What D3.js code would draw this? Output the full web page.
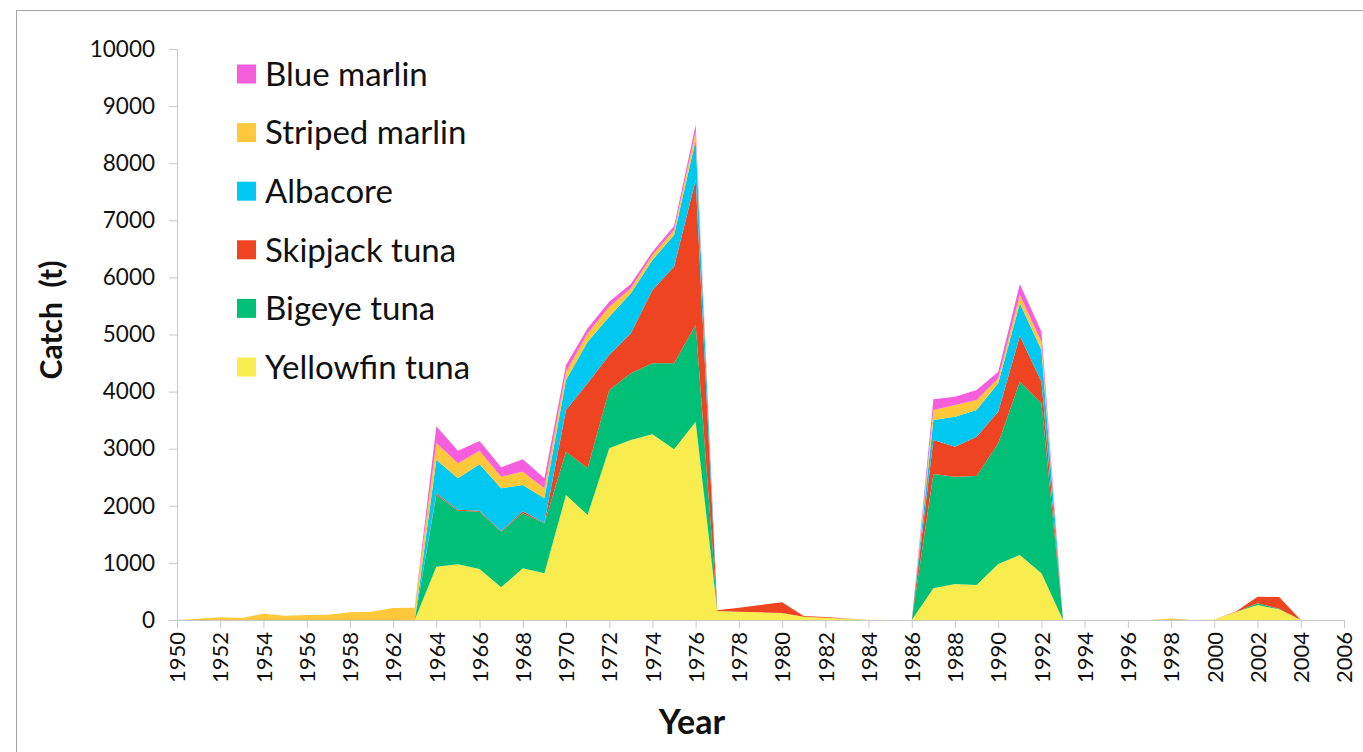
<!DOCTYPE html>
<html>
<head>
<meta charset="utf-8">
<script src="https://cdn.jsdelivr.net/npm/d3@7"></script>
<style>
  html, body { margin: 0; padding: 0; background: #fff; }
  svg { display: block; }
  text { font-family: Lato, "Open Sans", sans-serif; fill: #111; }
</style>
</head>
<body>
<svg id="chart" width="1363" height="752"></svg>
<script>
// ---- Data ----
const years = ["1950","1951","1952","1953","1954","1955","1956","1957","1958","1959",
  "1962","1963","1964","1965","1966","1967","1968","1969","1970","1971","1972","1973",
  "1974","1975","1976","1977","1978","1979","1980","1981","1982","1983","1984","1985",
  "1986","1987","1988","1989","1990","1991","1992","1993","1994","1995","1996","1997",
  "1998","1999","2000","2001","2002","2003","2004","2005","2006"];

//                 1950 .......................................... 1959, 1962, 1963
const yellowfin = [0,0,0,0,0,0,0,0,0,0, 0,0,
  // 1964-1976
  933,975,893,572,905,817,2189,1839,3007,3152,3252,2989,3473,
  // 1977-1986
  158,146,134,123,58,40,20,5,0,0,
  // 1987-1993
  555,630,613,981,1138,817,0,
  // 1994-2006
  0,0,0,0,0,0,10,140,263,187,0,0,0];

const bigeye = [0,0,0,0,0,0,0,0,0,0, 0,0,
  1256,940,1004,975,963,876,759,818,1021,1168,1243,1506,1693,
  0,0,0,0,0,0,0,0,0,0,
  2002,1880,1909,2113,3036,2978,0,
  0,0,0,0,0,0,0,0,29,12,0,0,0];

const skipjack = [0,0,0,0,0,0,0,0,0,0, 0,0,
  25,15,15,10,35,10,730,1488,613,700,1284,1692,2540,
  12,70,129,187,12,12,5,0,0,0,
  595,525,688,554,800,379,0,
  0,0,0,0,5,0,0,10,117,204,0,0,0];

const albacore = [0,0,0,0,0,0,0,0,0,0, 0,0,
  593,551,815,749,461,428,525,729,671,701,526,555,700,
  0,0,0,0,0,0,0,0,0,0,
  351,526,468,497,572,555,0,
  0,0,0,0,0,0,0,0,0,0,0,0,0];

const stripedMarlin = [0,23,47,35,111,76,88,93,134,146, 210,216,
  292,263,238,204,233,175,146,146,175,88,87,88,146,
  0,0,0,0,0,0,0,0,0,0,
  175,204,175,88,146,145,0,
  0,0,0,0,20,0,0,0,0,0,0,0,0];

const blueMarlin = [0,0,0,0,0,0,0,0,0,0, 0,0,
  292,221,170,164,217,175,117,88,88,75,58,70,117,
  0,0,0,0,0,0,0,0,0,0,
  187,146,175,116,192,176,0,
  0,0,0,0,0,0,0,0,0,0,0,0,0];

const seriesNames = ["Yellowfin tuna","Bigeye tuna","Skipjack tuna","Albacore","Striped marlin","Blue marlin"];
const seriesValues = [yellowfin, bigeye, skipjack, albacore, stripedMarlin, blueMarlin];
const seriesColors = ["#f9ec4f","#00c078","#ee4422","#00c8f0","#ffc83a","#f75ede"];
const yTicks = [0,1000,2000,3000,4000,5000,6000,7000,8000,9000,10000];
const xTickLabels = years.filter((d,i) => i % 2 === 0);

// ---- Build table ----
const table = years.map((y,i) => {
  const row = {year: y};
  seriesNames.forEach((n,k) => row[n] = seriesValues[k][i]);
  return row;
});

const svg = d3.select("#chart");

// outer frame
svg.append("rect").attr("x",16.5).attr("y",10.5).attr("width",1400).attr("height",800)
  .attr("fill","none").attr("stroke","#a6a6a6").attr("stroke-width",1);

const x = d3.scalePoint().domain(years).range([177, 1344]);
const y = d3.scaleLinear().domain([0,10000]).range([620, 49]);

const stack = d3.stack().keys(seriesNames);
const layers = stack(table);

const area = d3.area()
  .x(d => x(d.data.year))
  .y0(d => y(d[0]))
  .y1(d => y(d[1]));

svg.append("g").selectAll("path").data(layers).join("path")
  .attr("d", area)
  .attr("fill", (d,i) => seriesColors[i]);

// Y axis
const yAxis = svg.append("g").attr("transform","translate(177,0)")
  .call(d3.axisLeft(y).tickValues(yTicks).tickSize(8).tickPadding(14).tickFormat(d3.format("d")));
yAxis.select(".domain").attr("stroke","#c8c8c8");
yAxis.selectAll(".tick line").attr("stroke","#c8c8c8");
yAxis.selectAll(".tick text").style("font-size","22.5px").attr("fill","#222");

// X axis
const xAxis = svg.append("g").attr("transform","translate(0,620)")
  .call(d3.axisBottom(x).tickValues(xTickLabels).tickSize(8).tickSizeOuter(0));
xAxis.select(".domain").attr("stroke","#c8c8c8");
xAxis.selectAll(".tick line").attr("stroke","#c8c8c8");
xAxis.selectAll(".tick text")
  .style("font-size","22px").attr("fill","#222")
  .attr("transform","rotate(-90)")
  .attr("text-anchor","end")
  .attr("x",-12).attr("y",0).attr("dy","0.35em");

// Axis titles
svg.append("text").attr("transform","translate(62,320) rotate(-90)")
  .attr("text-anchor","middle").style("font-size","30px").style("font-weight","bold")
  .style("white-space","pre").text("Catch  (t)");
svg.append("text").attr("x",692).attr("y",734)
  .attr("text-anchor","middle").style("font-size","34px").style("font-weight","bold")
  .text("Year");

// Legend (top to bottom: reverse stack order)
const legendOrder = seriesNames.map((n,i) => ({name:n, color:seriesColors[i]})).reverse();
const lg = svg.append("g");
const leg = lg.selectAll("g").data(legendOrder).join("g")
  .attr("transform",(d,i) => `translate(237,${74 + i*58.6})`);
leg.append("rect").attr("x",0).attr("y",-9.5).attr("width",19).attr("height",19)
  .attr("fill",d => d.color);
leg.append("text").attr("x",28).attr("y",0).attr("dy","0.36em")
  .style("font-size","33px").text(d => d.name);
</script>
</body>
</html>
